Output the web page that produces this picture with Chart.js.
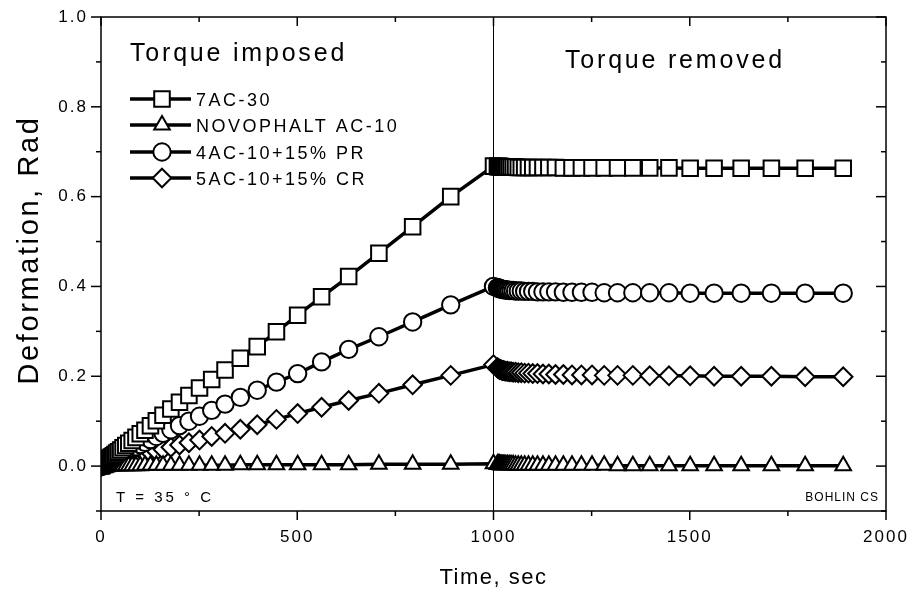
<!DOCTYPE html>
<html>
<head>
<meta charset="utf-8">
<script src="https://cdn.jsdelivr.net/npm/chart.js@4.4.0/dist/chart.umd.min.js"></script>
<style>
  html, body { margin: 0; padding: 0; background: #fff; }
  #wrap { width: 914px; height: 594px; }
</style>
</head>
<body>
<div id="wrap"><canvas id="deformChart" width="914" height="594"></canvas></div>
<script>
// time under torque (s) and time after the torque is removed (s)
const imposedTime = [1, 1.12, 1.26, 1.41, 1.58, 1.78, 2, 2.24, 2.51, 2.82,
    3.16, 3.55, 3.98, 4.47, 5.01, 5.62, 6.31, 7.08, 7.94, 8.91,
    10, 11.2, 12.6, 14.1, 15.8, 17.8, 20, 22.4, 25.1, 28.2,
    31.6, 35.5, 39.8, 44.7, 50.1, 56.2, 63.1, 70.8, 79.4, 89.1,
    100, 112, 126, 141, 158, 178, 200, 224, 251, 282,
    316, 355, 398, 447, 501, 562, 631, 708, 794, 891,
    1000];
const recoveryTime = [1010, 1011.2, 1012.6, 1014.1, 1015.8, 1017.8, 1020, 1022.4, 1025.1, 1028.2,
    1031.6, 1035.5, 1039.8, 1044.7, 1050.1, 1056.2, 1063.1, 1070.8, 1079.4, 1089.1,
    1100, 1112, 1126, 1141, 1158, 1178, 1200, 1224, 1251, 1282,
    1316, 1355, 1398, 1447, 1501, 1562, 1631, 1708, 1794, 1891];

const seriesNames = ['7AC-30', 'NOVOPHALT AC-10', '4AC-10+15% PR', '5AC-10+15% CR'];

// deformation (rad)
const ac30Imposed = [0.001, 0.001, 0.002, 0.002, 0.002, 0.003, 0.003, 0.003, 0.004, 0.004,
    0.004, 0.005, 0.005, 0.005, 0.006, 0.006, 0.006, 0.007, 0.007, 0.007,
    0.008, 0.009, 0.010, 0.011, 0.012, 0.013, 0.015, 0.017, 0.019, 0.021,
    0.023, 0.026, 0.029, 0.032, 0.036, 0.041, 0.046, 0.051, 0.057, 0.064,
    0.072, 0.080, 0.090, 0.101, 0.113, 0.127, 0.142, 0.157, 0.174, 0.193,
    0.214, 0.240, 0.266, 0.299, 0.336, 0.377, 0.422, 0.474, 0.533, 0.600,
    0.668];
const ac30Recovery = [0.667, 0.667, 0.667, 0.667, 0.667, 0.667, 0.666, 0.666, 0.666, 0.666,
    0.666, 0.666, 0.666, 0.666, 0.666, 0.666, 0.665, 0.665, 0.665, 0.665,
    0.665, 0.665, 0.665, 0.665, 0.665, 0.664, 0.664, 0.664, 0.664, 0.664,
    0.664, 0.664, 0.664, 0.664, 0.663, 0.663, 0.663, 0.663, 0.663, 0.663];

const novoImposed = [0.000, 0.000, 0.000, 0.000, 0.000, 0.000, 0.000, 0.000, 0.000, 0.000,
    0.001, 0.001, 0.001, 0.001, 0.001, 0.001, 0.001, 0.001, 0.001, 0.001,
    0.001, 0.001, 0.001, 0.001, 0.001, 0.001, 0.001, 0.001, 0.001, 0.001,
    0.001, 0.001, 0.001, 0.001, 0.001, 0.001, 0.001, 0.001, 0.001, 0.001,
    0.001, 0.002, 0.002, 0.002, 0.002, 0.002, 0.002, 0.002, 0.002, 0.002,
    0.002, 0.003, 0.003, 0.003, 0.003, 0.003, 0.003, 0.004, 0.004, 0.004,
    0.005];
const novoRecovery = [0.004, 0.004, 0.004, 0.004, 0.004, 0.003, 0.003, 0.003, 0.003, 0.003,
    0.003, 0.003, 0.003, 0.003, 0.003, 0.002, 0.002, 0.002, 0.002, 0.002,
    0.002, 0.002, 0.002, 0.002, 0.002, 0.002, 0.002, 0.002, 0.002, 0.002,
    0.001, 0.001, 0.001, 0.001, 0.001, 0.001, 0.001, 0.001, 0.001, 0.001];

const prImposed = [0.001, 0.001, 0.001, 0.002, 0.002, 0.002, 0.002, 0.003, 0.003, 0.003,
    0.003, 0.003, 0.004, 0.004, 0.004, 0.004, 0.005, 0.005, 0.005, 0.006,
    0.006, 0.007, 0.007, 0.008, 0.009, 0.010, 0.011, 0.012, 0.013, 0.015,
    0.017, 0.018, 0.021, 0.023, 0.025, 0.028, 0.031, 0.035, 0.039, 0.043,
    0.048, 0.053, 0.059, 0.066, 0.073, 0.081, 0.090, 0.100, 0.111, 0.124,
    0.138, 0.153, 0.169, 0.187, 0.206, 0.232, 0.260, 0.288, 0.321, 0.359,
    0.400];
const prRecovery = [0.397, 0.397, 0.396, 0.396, 0.395, 0.395, 0.394, 0.394, 0.393, 0.393,
    0.392, 0.392, 0.391, 0.391, 0.391, 0.390, 0.390, 0.390, 0.389, 0.389,
    0.389, 0.388, 0.388, 0.388, 0.388, 0.387, 0.387, 0.387, 0.387, 0.386,
    0.386, 0.386, 0.386, 0.386, 0.385, 0.385, 0.385, 0.385, 0.385, 0.385];

const crImposed = [0.000, 0.000, 0.001, 0.001, 0.001, 0.001, 0.001, 0.001, 0.001, 0.001,
    0.001, 0.002, 0.002, 0.002, 0.002, 0.002, 0.002, 0.002, 0.003, 0.003,
    0.003, 0.003, 0.004, 0.004, 0.004, 0.005, 0.005, 0.006, 0.007, 0.007,
    0.008, 0.009, 0.010, 0.011, 0.012, 0.014, 0.015, 0.017, 0.019, 0.021,
    0.024, 0.027, 0.030, 0.033, 0.037, 0.042, 0.047, 0.052, 0.058, 0.066,
    0.073, 0.082, 0.092, 0.104, 0.117, 0.131, 0.146, 0.162, 0.181, 0.202,
    0.226];
const crRecovery = [0.219, 0.218, 0.217, 0.216, 0.215, 0.215, 0.214, 0.213, 0.213, 0.212,
    0.211, 0.211, 0.210, 0.210, 0.209, 0.209, 0.208, 0.208, 0.207, 0.207,
    0.206, 0.206, 0.205, 0.205, 0.204, 0.204, 0.203, 0.203, 0.203, 0.202,
    0.202, 0.202, 0.201, 0.201, 0.201, 0.200, 0.200, 0.200, 0.199, 0.199];

const xTicks = [0, 500, 1000, 1500, 2000];
const yTicks = [0.0, 0.2, 0.4, 0.6, 0.8, 1.0];

const FONT = "'Liberation Sans', Arial, sans-serif";
const markers = [
    { style: 'rect', radius: 11 },
    { style: 'triangle', radius: 9 },
    { style: 'circle', radius: 8.7 },
    { style: 'rectRot', radius: 9.3 }
];

function toPoints(times, values) {
    return times.map((t, i) => ({ x: t, y: values[i] }));
}

const allTime = imposedTime.concat(recoveryTime);
const seriesValues = [
    ac30Imposed.concat(ac30Recovery),
    novoImposed.concat(novoRecovery),
    prImposed.concat(prRecovery),
    crImposed.concat(crRecovery)
];

const datasets = seriesNames.map((name, i) => ({
    label: name,
    data: toPoints(allTime, seriesValues[i]),
    borderColor: '#000',
    borderWidth: 3.5,
    pointStyle: markers[i].style,
    pointRadius: markers[i].radius,
    pointBackgroundColor: '#fff',
    pointBorderColor: '#000',
    pointBorderWidth: 2,
    tension: 0
}));

// small marker painter for the legend (same shapes as Chart.js)
function drawMarker(ctx, style, r, x, y) {
    ctx.beginPath();
    if (style === 'rect') {
        const s = Math.SQRT1_2 * r;
        ctx.rect(x - s, y - s, 2 * s, 2 * s);
    } else if (style === 'triangle') {
        const h = r * Math.sin(Math.PI / 3);
        ctx.moveTo(x, y - r);
        ctx.lineTo(x + h, y + r / 2);
        ctx.lineTo(x - h, y + r / 2);
        ctx.closePath();
    } else if (style === 'circle') {
        ctx.arc(x, y, r, 0, Math.PI * 2);
    } else {
        ctx.moveTo(x, y - r);
        ctx.lineTo(x + r, y);
        ctx.lineTo(x, y + r);
        ctx.lineTo(x - r, y);
        ctx.closePath();
    }
    ctx.fillStyle = '#fff';
    ctx.fill();
    ctx.lineWidth = 2;
    ctx.strokeStyle = '#000';
    ctx.stroke();
}

function line(ctx, x1, y1, x2, y2) {
    ctx.beginPath();
    ctx.moveTo(x1, y1);
    ctx.lineTo(x2, y2);
    ctx.stroke();
}

const decorations = {
    id: 'decorations',
    beforeUpdate(chart) { chart.ctx.letterSpacing = '2px'; },
    beforeDraw(chart) { chart.ctx.letterSpacing = '2px'; },
    beforeDatasetsDraw(chart) {
        const ctx = chart.ctx, a = chart.chartArea;
        const px = chart.scales.x.getPixelForValue(1000);
        ctx.save();
        ctx.strokeStyle = '#000';
        ctx.lineWidth = 1;
        line(ctx, px, a.top, px, a.bottom);
        ctx.restore();
    },
    afterDraw(chart) {
        const ctx = chart.ctx, a = chart.chartArea;
        const xs = chart.scales.x, ys = chart.scales.y;
        ctx.save();
        ctx.strokeStyle = '#000';
        ctx.lineWidth = 1.5;
        ctx.strokeRect(a.left, a.top, a.right - a.left, a.bottom - a.top);

        // ticks: outward on left/bottom, inward on top/right
        for (let v = 0; v <= 2000; v += 250) {
            const p = xs.getPixelForValue(v);
            const len = v % 500 === 0 ? 9 : 5;
            line(ctx, p, a.bottom, p, a.bottom + len);
            line(ctx, p, a.top, p, a.top + len);
        }
        for (let k = -1; k <= 10; k++) {
            const p = ys.getPixelForValue(k / 10);
            const len = k % 2 === 0 ? 10 : 5;
            line(ctx, a.left - len, p, a.left, p);
            line(ctx, a.right - len, p, a.right, p);
        }

        ctx.fillStyle = '#000';
        ctx.textBaseline = 'alphabetic';

        // phase labels
        ctx.font = '25px ' + FONT;
        ctx.letterSpacing = '2.8px';
        ctx.textAlign = 'left';
        ctx.fillText('Torque imposed', 130, 61);
        ctx.fillText('Torque removed', 565, 68);

        // legend
        const rows = [99, 125, 152, 178];
        ctx.font = '18px ' + FONT;
        ctx.letterSpacing = '2.5px';
        rows.forEach((y, i) => {
            ctx.strokeStyle = '#000';
            ctx.lineWidth = 3.5;
            line(ctx, 130, y, 191, y);
            drawMarker(ctx, markers[i].style, markers[i].radius, 162, y);
            ctx.fillStyle = '#000';
            ctx.fillText(seriesNames[i], 196, y + 6.5);
        });

        // notes
        ctx.font = '15px ' + FONT;
        ctx.letterSpacing = '3px';
        ctx.fillText('T = 35 \u00B0 C', 116, 502);
        ctx.font = '12px ' + FONT;
        ctx.letterSpacing = '1px';
        ctx.textAlign = 'right';
        ctx.fillText('BOHLIN CS', 879, 501);

        // axis titles
        ctx.textAlign = 'center';
        ctx.font = '22px ' + FONT;
        ctx.letterSpacing = '1.5px';
        ctx.fillText('Time, sec', (a.left + a.right) / 2, 584);
        ctx.save();
        ctx.translate(38, 250);
        ctx.rotate(-Math.PI / 2);
        ctx.font = '29px ' + FONT;
        ctx.letterSpacing = '2.6px';
        ctx.fillText('Deformation, Rad', 0, 0);
        ctx.restore();
        ctx.restore();
    }
};

const ctx = document.getElementById('deformChart').getContext('2d');
new Chart(ctx, {
    type: 'line',
    data: { datasets: datasets },
    plugins: [decorations],
    options: {
        responsive: false,
        animation: false,
        devicePixelRatio: 1,
        layout: { padding: { left: 0, top: 17, right: 28, bottom: 0 } },
        plugins: { legend: { display: false }, tooltip: { enabled: false } },
        scales: {
            x: {
                type: 'linear',
                min: 0,
                max: 2000,
                grid: { display: false, drawTicks: false },
                border: { display: false },
                afterBuildTicks: s => { s.ticks = xTicks.map(v => ({ value: v })); },
                afterFit: s => { s.height = 83; s.paddingLeft = 0; s.paddingRight = 0; },
                ticks: {
                    padding: 16,
                    color: '#000',
                    font: { family: FONT, size: 17 },
                    maxRotation: 0,
                    callback: v => String(v)
                }
            },
            y: {
                type: 'linear',
                min: -0.1,
                max: 1.0,
                grid: { display: false, drawTicks: false },
                border: { display: false },
                afterBuildTicks: s => { s.ticks = yTicks.map(v => ({ value: v })); },
                afterFit: s => { s.width = 101; s.paddingTop = 0; s.paddingBottom = 0; },
                ticks: {
                    padding: 13,
                    color: '#000',
                    font: { family: FONT, size: 17 },
                    callback: v => v.toFixed(1)
                }
            }
        }
    }
});
</script>
</body>
</html>
